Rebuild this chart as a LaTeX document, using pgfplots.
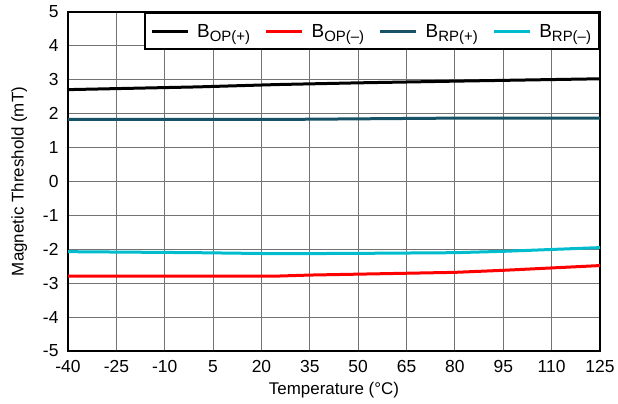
\documentclass[border=0pt]{standalone}
\usepackage{fontspec}
\setmainfont{Liberation Sans}
\usepackage{pgfplots}
\pgfplotsset{compat=1.18}
\definecolor{cTeal}{RGB}{24,82,102}
\definecolor{cCyan}{RGB}{0,188,204}
\newcommand{\sub}[1]{\raisebox{-0.4ex}{\fontsize{15}{17}\selectfont #1}}
\begin{document}
\begin{tikzpicture}
\begin{axis}[name=ax,
  scale only axis, width=532bp, height=339bp,
  xmin=-40, xmax=125, ymin=-5, ymax=5,
  xtick={-40,-25,...,125}, ytick={-5,-4,...,5},
  grid=major, major grid style={black!55, line width=0.9bp},
  major tick length=0pt,
  axis line style={line width=2.4bp},
  /pgf/number format/assume math mode=true,
  ticklabel style={font=\fontsize{17.5}{20}\selectfont},
  xticklabel style={yshift=-6bp},
  yticklabel style={xshift=-6bp},
  xlabel={Temperature (°C)}, ylabel={Magnetic Threshold (mT)},
  label style={font=\fontsize{17}{20}\selectfont},
  xlabel style={yshift=-3bp},
  ylabel style={yshift=9bp},
  legend columns=4,
  legend style={at={(rel axis cs:1,1)}, anchor=north east, draw=black, line width=2bp,
    fill=white, font=\fontsize{19}{23}\selectfont, inner xsep=6bp, inner ysep=9bp,
    /tikz/every even column/.append style={column sep=13bp},
    /tikz/every odd column/.append style={column sep=6bp}},
  legend image code/.code={\draw[#1, line width=2.6bp] (0bp,0bp) -- (36bp,0bp);},
]
\addplot[black, line width=3bp] coordinates {(-40,2.71) (0,2.79) (25,2.86) (50,2.91) (80,2.96) (125,3.03)};
\addlegendentry{B\sub{OP(+)}}
\addplot[red, line width=3bp] coordinates {(-40,-2.79) (25,-2.79) (35,-2.76) (80,-2.68) (95,-2.62) (125,-2.48)};
\addlegendentry{B\sub{OP(–)}}
\addplot[cTeal, line width=3bp] coordinates {(-40,1.83) (25,1.83) (80,1.87) (125,1.87)};
\addlegendentry{B\sub{RP(+)}}
\addplot[cCyan, line width=3bp] coordinates {(-40,-2.07) (0,-2.10) (25,-2.13) (50,-2.12) (80,-2.10) (95,-2.06) (125,-1.95)};
\addlegendentry{B\sub{RP(–)}}
\end{axis}
\pgfresetboundingbox
\useasboundingbox ([xshift=-68bp,yshift=-53bp]ax.south west) rectangle ([xshift=18bp,yshift=12bp]ax.north east);
\end{tikzpicture}
\end{document}
